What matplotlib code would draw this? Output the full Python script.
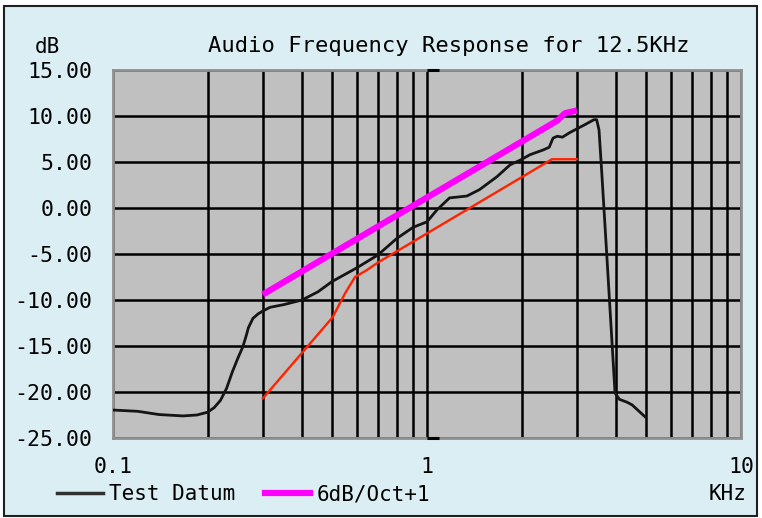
import matplotlib
matplotlib.use("Agg")
import matplotlib.pyplot as plt
from matplotlib.lines import Line2D
from matplotlib.patches import Rectangle
from matplotlib.transforms import blended_transform_factory
from matplotlib.ticker import FixedLocator, NullFormatter

# ---------------- data ----------------
title = "Audio Frequency Response for 12.5KHz"
y_unit = "dB"
x_unit = "KHz"

freq_test = [0.1, 0.12, 0.14, 0.167, 0.185, 0.2, 0.21, 0.22, 0.23, 0.24, 0.25, 0.259, 0.265,
             0.27, 0.279, 0.29, 0.3, 0.316, 0.35, 0.4, 0.45, 0.498, 0.598, 0.698, 0.802,
             0.903, 1.0, 1.076, 1.18, 1.34, 1.47, 1.67, 1.84, 1.98, 2.13, 2.34, 2.45,
             2.52, 2.6, 2.7, 2.85, 3.0, 3.2, 3.4, 3.47, 3.53, 3.6, 3.74, 3.97, 4.1,
             4.33, 4.5, 4.95]
db_test = [-21.96, -22.1, -22.45, -22.6, -22.5, -22.2, -21.7, -20.9, -19.6, -17.8, -16.3, -15.1, -14.0,
           -13.0, -12.0, -11.5, -11.2, -10.8, -10.5, -10.0, -9.1, -8.0, -6.5, -5.1, -3.3,
           -2.1, -1.5, -0.2, 1.1, 1.3, 2.0, 3.4, 4.7, 5.2, 5.8, 6.3, 6.6,
           7.6, 7.8, 7.7, 8.2, 8.6, 9.1, 9.6, 9.6, 8.5, 4.0, -5.3, -20.1, -20.8,
           -21.1, -21.4, -22.7]

freq_ref = [0.3, 2.6, 2.75, 3.0]
db_ref = [-9.4, 9.5, 10.3, 10.6]

freq_red = [0.3, 0.5, 0.55, 0.59, 0.64, 0.7, 2.5, 3.0]
db_red = [-20.7, -11.9, -9.2, -7.5, -6.8, -5.9, 5.3, 5.3]

x_major = [0.1, 1, 10]
x_major_labels = ["0.1", "1", "10"]
x_minor = [0.2, 0.3, 0.4, 0.5, 0.6, 0.7, 0.8, 0.9, 2, 3, 4, 5, 6, 7, 8, 9]
y_ticks = [15, 10, 5, 0, -5, -10, -15, -20, -25]
y_labels = ["15.00", "10.00", "5.00", "0.00", "-5.00", "-10.00", "-15.00", "-20.00", "-25.00"]
legend_labels = ["Test Datum", "6dB/Oct+1"]

# ---------------- style ----------------
W, H = 762, 518
mono = "DejaVu Sans Mono"
bg = "#dbeef3"

fig = plt.figure(figsize=(W / 100, H / 100), dpi=100, facecolor="white")
fig.patches.append(Rectangle((4 / W, 2 / H), 753 / W, 510 / H, transform=fig.transFigure,
                             facecolor=bg, edgecolor="#202020", lw=1.5, zorder=-10))

ax = fig.add_axes([113 / W, 1 - 438 / H, 628 / W, 368 / H])
ax.set_facecolor("#c0c0c0")
ax.set_xscale("log")
ax.set_xlim(0.1, 10)
ax.set_ylim(-25, 15)

ax.xaxis.set_major_locator(FixedLocator(x_major))
ax.xaxis.set_minor_locator(FixedLocator(x_minor))
ax.xaxis.set_minor_formatter(NullFormatter())
ax.set_xticklabels(x_major_labels)
ax.set_yticks(y_ticks)
ax.set_yticklabels(y_labels)

ax.tick_params(which="both", length=0)
ax.tick_params(axis="y", pad=15, labelsize=15.5)
ax.tick_params(axis="x", pad=14, labelsize=15.5)
for lab in ax.get_xticklabels() + ax.get_yticklabels():
    lab.set_family(mono)

ax.set_axisbelow(True)
ax.grid(which="both", axis="x", color="black", lw=1.8)
ax.grid(which="major", axis="y", color="black", lw=1.8)

for sp in ax.spines.values():
    sp.set_color("#909090")
    sp.set_linewidth(2)

# decade marker at interior major tick
trans = blended_transform_factory(ax.transData, ax.transAxes)
for xm in x_major[1:-1]:
    for yy in (0, 1):
        ax.plot([xm, xm * 1.09], [yy, yy], transform=trans, color="black", lw=2.2,
                clip_on=False, solid_capstyle="butt", zorder=5)

ax.plot(freq_red, db_red, color="#ff2200", lw=1.7, zorder=3)
ax.plot(freq_ref, db_ref, color="#ff00ff", lw=4.5, zorder=3, solid_capstyle="butt")
ax.plot(freq_test, db_test, color="#151515", lw=2.0, zorder=4)

fig.text(449 / W, 1 - 46 / H, title, ha="center", va="center", family=mono, fontsize=15.9)
fig.text(47 / W, 1 - 47 / H, y_unit, ha="center", va="center", family=mono, fontsize=15)
fig.text(728 / W, 1 - 494 / H, x_unit, ha="center", va="center", family=mono, fontsize=15)

handles = [Line2D([], [], color="#303030", lw=2.5),
           Line2D([], [], color="#ff00ff", lw=4.5)]
fig.legend(handles, legend_labels, loc="center left", bbox_to_anchor=(57 / W, 1 - 494 / H),
           ncol=2, frameon=False, borderaxespad=0, borderpad=0,
           handlelength=2.2, handletextpad=0.3, columnspacing=1.4,
           prop={"family": mono, "size": 15})

fig.savefig("out.png", dpi=100, facecolor=fig.get_facecolor())
